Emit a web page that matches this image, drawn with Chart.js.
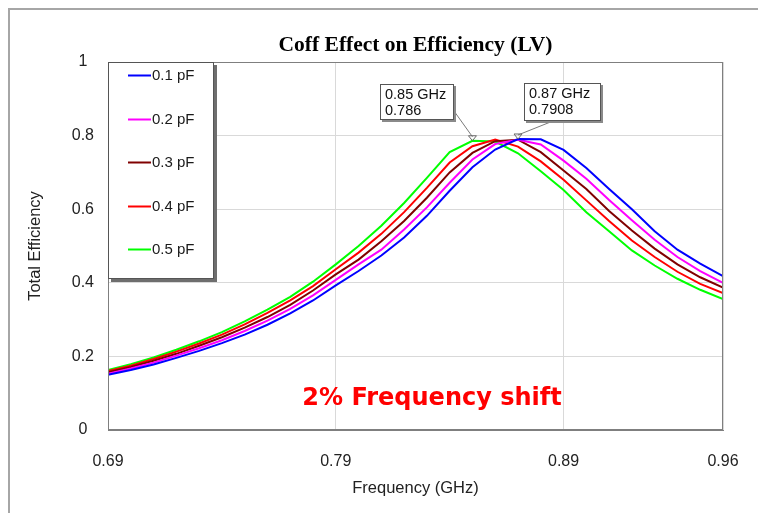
<!DOCTYPE html>
<html><head><meta charset="utf-8">
<script src="https://cdn.jsdelivr.net/npm/chart.js@4.4.0/dist/chart.umd.min.js"></script>
<style>html,body{margin:0;padding:0;background:#fff;overflow:hidden}canvas{display:block}</style>
</head><body>
<canvas id="c" width="758" height="513"></canvas>
<script>
const frequencies = [0.69,0.70,0.71,0.72,0.73,0.74,0.75,0.76,0.77,0.78,0.79,0.80,0.81,0.82,0.83,0.84,0.85,0.86,0.87,0.88,0.89,0.90,0.91,0.92,0.93,0.94,0.95,0.96];
const eff01pF = [0.150,0.163,0.178,0.196,0.215,0.236,0.259,0.286,0.317,0.352,0.393,0.432,0.474,0.523,0.582,0.650,0.714,0.762,0.7908,0.790,0.761,0.712,0.655,0.600,0.540,0.490,0.452,0.418];
const eff02pF = [0.153,0.167,0.183,0.202,0.222,0.244,0.269,0.297,0.329,0.366,0.408,0.450,0.490,0.545,0.605,0.672,0.735,0.777,0.789,0.776,0.732,0.683,0.625,0.570,0.517,0.470,0.432,0.400];
const eff03pF = [0.157,0.171,0.188,0.207,0.229,0.252,0.278,0.307,0.340,0.379,0.423,0.463,0.513,0.568,0.631,0.700,0.753,0.785,0.789,0.755,0.705,0.655,0.595,0.542,0.493,0.450,0.415,0.387];
const eff04pF = [0.160,0.175,0.193,0.213,0.235,0.259,0.287,0.318,0.352,0.391,0.437,0.482,0.533,0.592,0.658,0.727,0.771,0.789,0.770,0.730,0.680,0.624,0.568,0.515,0.470,0.430,0.397,0.372];
const eff05pF = [0.163,0.179,0.197,0.218,0.241,0.266,0.295,0.327,0.362,0.403,0.450,0.500,0.555,0.617,0.685,0.755,0.786,0.784,0.752,0.703,0.652,0.592,0.540,0.488,0.447,0.411,0.381,0.356];
const seriesLabels = ['0.1 pF','0.2 pF','0.3 pF','0.4 pF','0.5 pF'];
const seriesValues = [eff01pF, eff02pF, eff03pF, eff04pF, eff05pF];
const seriesColors = ['#0000ff','#ff00ff','#800000','#ff0000','#00ff00'];
const xTickValues = [0.69,0.79,0.89,0.96];
const yTickValues = [0,0.2,0.4,0.6,0.8,1];
const markerFreqs = [0.85,0.87];
const markerValues = [0.786,0.7908];
const titleText = 'Coff Effect on Efficiency (LV)';
const noteText = '2% Frequency shift';

const SANS = "'Liberation Sans', Arial, sans-serif";

const decorPlugin = {
  id: 'decor',
  beforeDraw(chart) {
    const ctx = chart.ctx;
    ctx.save();
    ctx.fillStyle = '#fff';
    ctx.fillRect(0, 0, chart.width, chart.height);
    ctx.strokeStyle = '#a6a6a6';
    ctx.lineWidth = 2;
    ctx.beginPath();
    ctx.moveTo(9, chart.height + 2); ctx.lineTo(9, 9); ctx.lineTo(chart.width + 2, 9);
    ctx.stroke();
    ctx.restore();
  },
  afterDraw(chart) {
    const ctx = chart.ctx;
    const a = chart.chartArea;
    const xs = chart.scales.x, ys = chart.scales.y;
    ctx.save();
    // title
    ctx.fillStyle = '#000';
    ctx.font = "bold 21.5px 'Liberation Serif', 'Times New Roman', serif";
    ctx.textAlign = 'center';
    ctx.textBaseline = 'middle';
    ctx.fillText(titleText, (a.left + a.right) / 2, 45);

    // plot border
    ctx.strokeStyle = '#7f7f7f';
    ctx.lineWidth = 1;
    ctx.strokeRect(Math.round(a.left) + 0.5, Math.round(a.top) + 0.5, Math.round(a.right - a.left) - 1, Math.round(a.bottom - a.top) - 1);

    // note text
    ctx.fillStyle = '#ff0000';
    ctx.font = "bold 24px 'DejaVu Sans', Verdana, sans-serif";
    ctx.textAlign = 'center';
    ctx.textBaseline = 'alphabetic';
    ctx.fillText(noteText, a.left + 324, a.bottom - 25);

    // legend box
    const lx = a.left, ly = a.top, lw = 106, lh = 217;
    ctx.fillStyle = '#6e6e6e';
    ctx.fillRect(lx + 3, ly + 3, lw, lh);
    ctx.fillStyle = '#fff';
    ctx.fillRect(lx, ly, lw, lh);
    ctx.strokeStyle = '#555';
    ctx.lineWidth = 1;
    ctx.strokeRect(lx + 0.5, ly + 0.5, lw - 1, lh - 1);
    ctx.font = '15px ' + SANS;
    ctx.textAlign = 'left';
    ctx.textBaseline = 'middle';
    seriesLabels.forEach((lab, i) => {
      const y = Math.round(ly + 13 + i * 43.5) + 0.5;
      ctx.strokeStyle = seriesColors[i];
      ctx.lineWidth = 2;
      ctx.beginPath(); ctx.moveTo(lx + 20, y); ctx.lineTo(lx + 43, y); ctx.stroke();
      ctx.fillStyle = '#1a1a1a';
      ctx.fillText(lab, lx + 44, y);
    });

    // markers & callouts
    const boxes = [
      {dx: -92, dy: -57, w: 74, h: 36, ax: 'right'},
      {dx: 6, dy: -56, w: 77, h: 38, ax: 'bottom'}
    ];
    markerFreqs.forEach((f, i) => {
      const px = xs.getPixelForValue(f), py = ys.getPixelForValue(markerValues[i]);
      const b = boxes[i];
      const bx = Math.round(px + b.dx), by = Math.round(py + b.dy);
      ctx.strokeStyle = '#7a7a7a';
      ctx.lineWidth = 1;
      ctx.beginPath();
      if (b.ax === 'right') ctx.moveTo(bx + b.w, by + b.h - 9);
      else ctx.moveTo(bx + 29, by + b.h);
      ctx.lineTo(px, py - 4);
      ctx.stroke();
      ctx.strokeStyle = '#6a6a6a';
      ctx.beginPath();
      ctx.moveTo(px - 4, py - 5); ctx.lineTo(px + 4, py - 5); ctx.lineTo(px, py); ctx.closePath();
      ctx.stroke();
      ctx.fillStyle = '#8a8a8a';
      ctx.fillRect(bx + 2, by + 2, b.w, b.h);
      ctx.fillStyle = '#fff';
      ctx.fillRect(bx, by, b.w, b.h);
      ctx.strokeStyle = '#555';
      ctx.strokeRect(bx + 0.5, by + 0.5, b.w - 1, b.h - 1);
      ctx.fillStyle = '#111';
      ctx.font = '14.5px ' + SANS;
      ctx.textAlign = 'left';
      ctx.textBaseline = 'middle';
      ctx.fillText(f.toFixed(2) + ' GHz', bx + 5, by + 11);
      ctx.fillText(String(markerValues[i]), bx + 5, by + 27);
    });
    ctx.restore();
  }
};

const datasets = seriesLabels.map((lab, i) => ({
  label: lab,
  data: frequencies.map((f, j) => ({x: f, y: seriesValues[i][j]})),
  borderColor: seriesColors[i],
  backgroundColor: seriesColors[i],
  borderWidth: 2,
  pointRadius: 0,
  tension: 0,
  fill: false
}));

new Chart(document.getElementById('c'), {
  type: 'line',
  data: {datasets},
  plugins: [decorPlugin],
  options: {
    responsive: false,
    animation: false,
    devicePixelRatio: 1,
    layout: {padding: {left: 0, right: 35, top: 62, bottom: 0}},
    plugins: {
      legend: {display: false},
      tooltip: {enabled: false},
      title: {display: false}
    },
    scales: {
      x: {
        type: 'linear',
        min: 0.69, max: 0.96,
        afterBuildTicks: (s) => { s.ticks = xTickValues.map(v => ({value: v})); },
        afterFit: (s) => { s.height = 83; },
        ticks: {
          color: '#222', padding: 17,
          font: {family: SANS, size: 16, lineHeight: 1.8},
          callback: (v) => Number(v).toFixed(2)
        },
        grid: {color: '#d9d9d9', drawTicks: false},
        border: {color: '#7f7f7f'},
        title: {display: true, text: 'Frequency (GHz)', color: '#222', font: {family: SANS, size: 16.5}, padding: {top: 0, bottom: 15}}
      },
      y: {
        min: 0, max: 1,
        afterBuildTicks: (s) => { s.ticks = yTickValues.map(v => ({value: v})); },
        afterFit: (s) => { s.width = 108; },
        ticks: {
          color: '#222', padding: 14, crossAlign: 'center',
          font: {family: SANS, size: 16},
          callback: (v) => String(Number(Number(v).toFixed(1)))
        },
        grid: {color: '#d9d9d9', drawTicks: false},
        border: {color: '#7f7f7f'},
        title: {display: true, text: 'Total Efficiency', color: '#222', font: {family: SANS, size: 16.5}, padding: {top: 26, bottom: 0}}
      }
    }
  }
});
</script>
</body></html>
